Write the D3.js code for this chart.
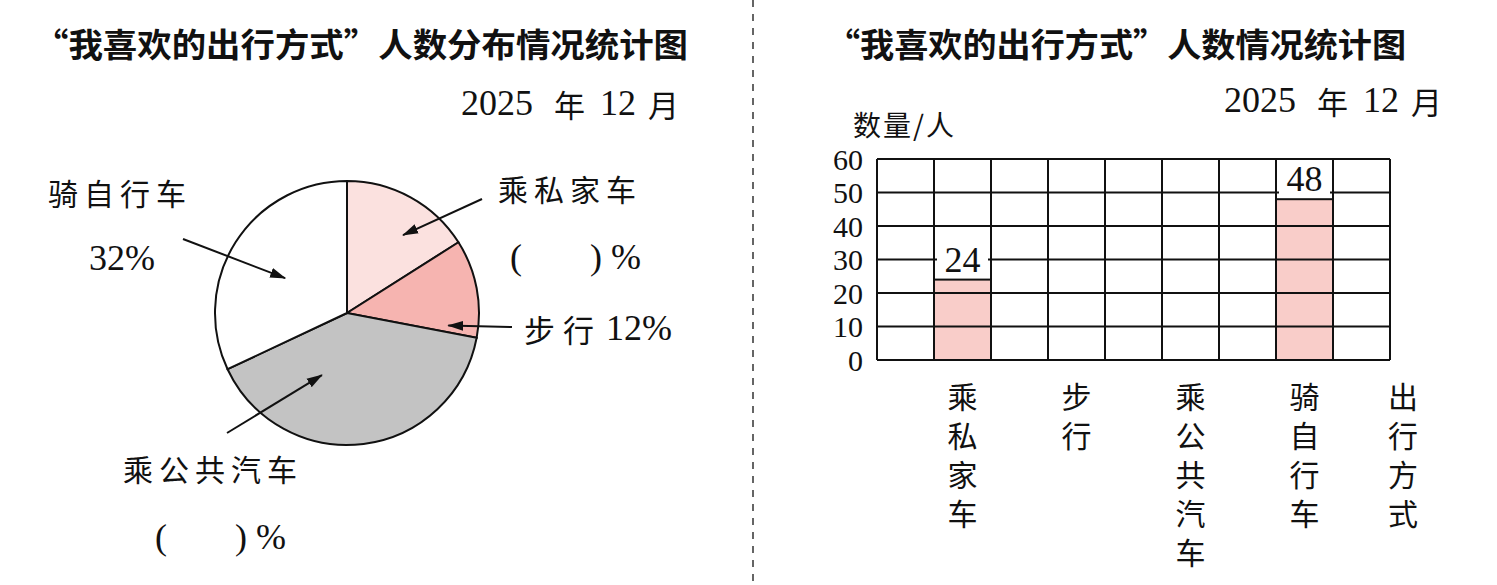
<!DOCTYPE html>
<html>
<head>
<meta charset="utf-8">
<script src="https://cdn.jsdelivr.net/npm/d3@7"></script>
<style>
  body { margin: 0; background: #fff; }
  text { fill: #111; }
</style>
</head>
<body>
<div id="chart"></div>
<script>
// travel modes, in pie order (clockwise from 12 o'clock)
var modes = ["乘私家车", "步行", "乘公共汽车", "骑自行车"];
var pieShares = [16, 12, 40, 32];            // percent
var pieTexts = [null, "12%", null, "32%"];   // null = blank to fill in: "(   )%"
var pieColors = ["#fbe1df", "#f6b4b0", "#c3c3c3", "#ffffff"];

// bar chart: only two bars are drawn in the picture
var barCounts = [24, null, null, 48];
var yTicks = [0, 10, 20, 30, 40, 50, 60];
var leftTitle = "“我喜欢的出行方式”人数分布情况统计图";
var rightTitle = "“我喜欢的出行方式”人数情况统计图";

var W = 1497, H = 585;
var cjk = "'Noto Sans CJK SC', sans-serif";
var serif = "'Liberation Serif', 'DejaVu Serif', serif";

var svg = d3.select("#chart").append("svg")
    .attr("width", W).attr("height", H);
svg.append("rect").attr("width", W).attr("height", H).attr("fill", "#fff");

svg.append("defs").append("marker")
    .attr("id", "arrow")
    .attr("viewBox", "0 0 16 12")
    .attr("refX", 15).attr("refY", 6)
    .attr("markerWidth", 16).attr("markerHeight", 12)
    .attr("markerUnits", "userSpaceOnUse")
    .attr("orient", "auto")
    .append("path").attr("d", "M0,1L16,6L0,11z").attr("fill", "#111");

// dashed divider
svg.append("line")
    .attr("x1", 753).attr("x2", 753).attr("y1", 0).attr("y2", H)
    .attr("stroke", "#333").attr("stroke-width", 1.5)
    .attr("stroke-dasharray", "7,7");

// titles
function title(txt, x, len) {
  svg.append("text")
      .attr("x", x).attr("y", 43)
      .attr("dominant-baseline", "central")
      .attr("textLength", len).attr("lengthAdjust", "spacingAndGlyphs")
      .style("font-family", cjk).style("font-weight", 700).style("font-size", "33px")
      .text(txt);
}
title(leftTitle, 34, 654);
title(rightTitle, 826, 580);

function dateLabel(x, y) {
  var t = svg.append("text").attr("y", y)
      .attr("dominant-baseline", "central").style("font-size", "36px");
  t.append("tspan").attr("x", x).style("font-family", serif).text("2025");
  t.append("tspan").attr("x", x + 93).style("font-family", cjk).style("font-size", "31px").text("年");
  t.append("tspan").attr("x", x + 139).style("font-family", serif).text("12");
  t.append("tspan").attr("x", x + 187).style("font-family", cjk).style("font-size", "31px").text("月");
}
dateLabel(461, 103);
dateLabel(1224, 100);

// ---------- pie ----------
var cx = 347, cy = 313, R = 132;
var pie = d3.pie().sort(null).value(function(d) { return d; });
var arc = d3.arc().innerRadius(0).outerRadius(R);
var pg = svg.append("g").attr("transform", "translate(" + cx + "," + cy + ")");
pg.selectAll("path")
    .data(pie(pieShares))
    .enter().append("path")
    .attr("d", arc)
    .attr("fill", function(d, i) { return pieColors[i]; })
    .attr("stroke", "#111").attr("stroke-width", 2);

// label placement (layout only): name pos, value pos, arrow tail, arrow tip (angle deg, radius)
var pieNotes = [
  {name: [570, 188], val: [510, 257], tail: [482, 199], tip: [35.7, 96]},
  {name: null,       val: [524, 328], tail: [512, 327], tip: [97, 102]},
  {name: [213, 468], val: [155, 537], tail: [227, 433], tip: [202, 67]},
  {name: [120, 192], val: [89, 258],  tail: [183, 239], tip: [299.4, 71]}
];

pieNotes.forEach(function(n, i) {
  var tip = d3.pointRadial(n.tip[0] * Math.PI / 180, n.tip[1]);
  svg.append("line")
      .attr("x1", n.tail[0]).attr("y1", n.tail[1])
      .attr("x2", cx + tip[0]).attr("y2", cy + tip[1])
      .attr("stroke", "#111").attr("stroke-width", 2)
      .attr("marker-end", "url(#arrow)");
  if (n.name) {
    svg.append("text").attr("x", n.name[0]).attr("y", n.name[1])
        .attr("text-anchor", "middle").attr("dominant-baseline", "central")
        .style("font-family", cjk).style("font-size", "30px").style("letter-spacing", "6px")
        .text(modes[i]);
    var v = svg.append("text").attr("y", n.val[1])
        .attr("dominant-baseline", "central")
        .style("font-family", serif).style("font-size", "36px");
    if (pieTexts[i] == null) {
      v.append("tspan").attr("x", n.val[0]).text("(");
      v.append("tspan").attr("x", n.val[0] + 80).text(")");
      v.append("tspan").attr("x", n.val[0] + 101).text("%");
    } else {
      v.attr("x", n.val[0]).text(pieTexts[i]);
    }
  } else {
    var t = svg.append("text").attr("x", n.val[0]).attr("y", n.val[1])
        .attr("dominant-baseline", "central");
    t.append("tspan").style("font-family", cjk).style("font-size", "31px").style("letter-spacing", "8px")
        .text(modes[i]);
    t.append("tspan").attr("x", n.val[0] + 82).style("font-family", serif).style("font-size", "36px")
        .text(pieTexts[i]);
  }
});

// ---------- bar chart ----------
var gx0 = 877, gx1 = 1390, gy0 = 360, gy1 = 159;
var nCols = modes.length * 2 + 1;
var x = d3.scaleLinear().domain([0, nCols]).range([gx0, gx1]);
var y = d3.scaleLinear().domain([0, 60]).range([gy0, gy1]);
var colW = x(1) - x(0);
var slot = function(i) { return 2 * i + 1; };

var bg = svg.append("g");
var bars = modes.map(function(m, i) { return {mode: m, v: barCounts[i], col: slot(i)}; })
    .filter(function(d) { return d.v != null; });

bg.selectAll("rect.bar").data(bars).enter().append("rect")
    .attr("class", "bar")
    .attr("x", function(d) { return x(d.col); })
    .attr("y", function(d) { return y(d.v); })
    .attr("width", colW)
    .attr("height", function(d) { return y(0) - y(d.v); })
    .attr("fill", "#f9cdc9");

// grid
bg.selectAll("line.h").data(yTicks).enter().append("line")
    .attr("x1", gx0).attr("x2", gx1)
    .attr("y1", function(d) { return y(d); }).attr("y2", function(d) { return y(d); })
    .attr("stroke", "#111").attr("stroke-width", 2);
bg.selectAll("line.v").data(d3.range(nCols + 1)).enter().append("line")
    .attr("x1", function(d) { return x(d); }).attr("x2", function(d) { return x(d); })
    .attr("y1", gy0).attr("y2", gy1)
    .attr("stroke", "#111").attr("stroke-width", 2);

// bar outlines on top of grid
bg.selectAll("rect.out").data(bars).enter().append("rect")
    .attr("x", function(d) { return x(d.col); })
    .attr("y", function(d) { return y(d.v); })
    .attr("width", colW)
    .attr("height", function(d) { return y(0) - y(d.v); })
    .attr("fill", "none").attr("stroke", "#111").attr("stroke-width", 2);

// value labels with white backing
bars.forEach(function(d) {
  var ly = y(d.v) - 20;
  bg.append("rect")
      .attr("x", x(d.col) + 3).attr("y", ly - 16)
      .attr("width", colW - 6).attr("height", 33)
      .attr("fill", "#fff");
  bg.append("text")
      .attr("x", x(d.col) + colW / 2).attr("y", ly)
      .attr("text-anchor", "middle").attr("dominant-baseline", "central")
      .style("font-family", serif).style("font-size", "36px")
      .text(d.v);
});

// y tick labels
bg.selectAll("text.yt").data(yTicks).enter().append("text")
    .attr("x", 863).attr("y", function(d) { return y(d); })
    .attr("text-anchor", "end").attr("dominant-baseline", "central")
    .style("font-family", serif).style("font-size", "30px")
    .text(function(d) { return d; });

svg.append("text").attr("x", 853).attr("y", 124)
    .attr("dominant-baseline", "central")
    .style("font-family", cjk).style("font-size", "28px").style("letter-spacing", "2px")
    .text("数量/人");

// vertical category labels (one text each, written top to bottom)
function vertical(txt, cxp) {
  svg.append("text")
      .attr("x", cxp).attr("y", 382)
      .style("writing-mode", "vertical-rl")
      .style("font-family", cjk).style("font-size", "30px")
      .style("letter-spacing", "9px")
      .text(txt);
}
modes.forEach(function(m, i) { vertical(m, x(slot(i)) + colW / 2); });
vertical("出行方式", 1403);
</script>
</body>
</html>
